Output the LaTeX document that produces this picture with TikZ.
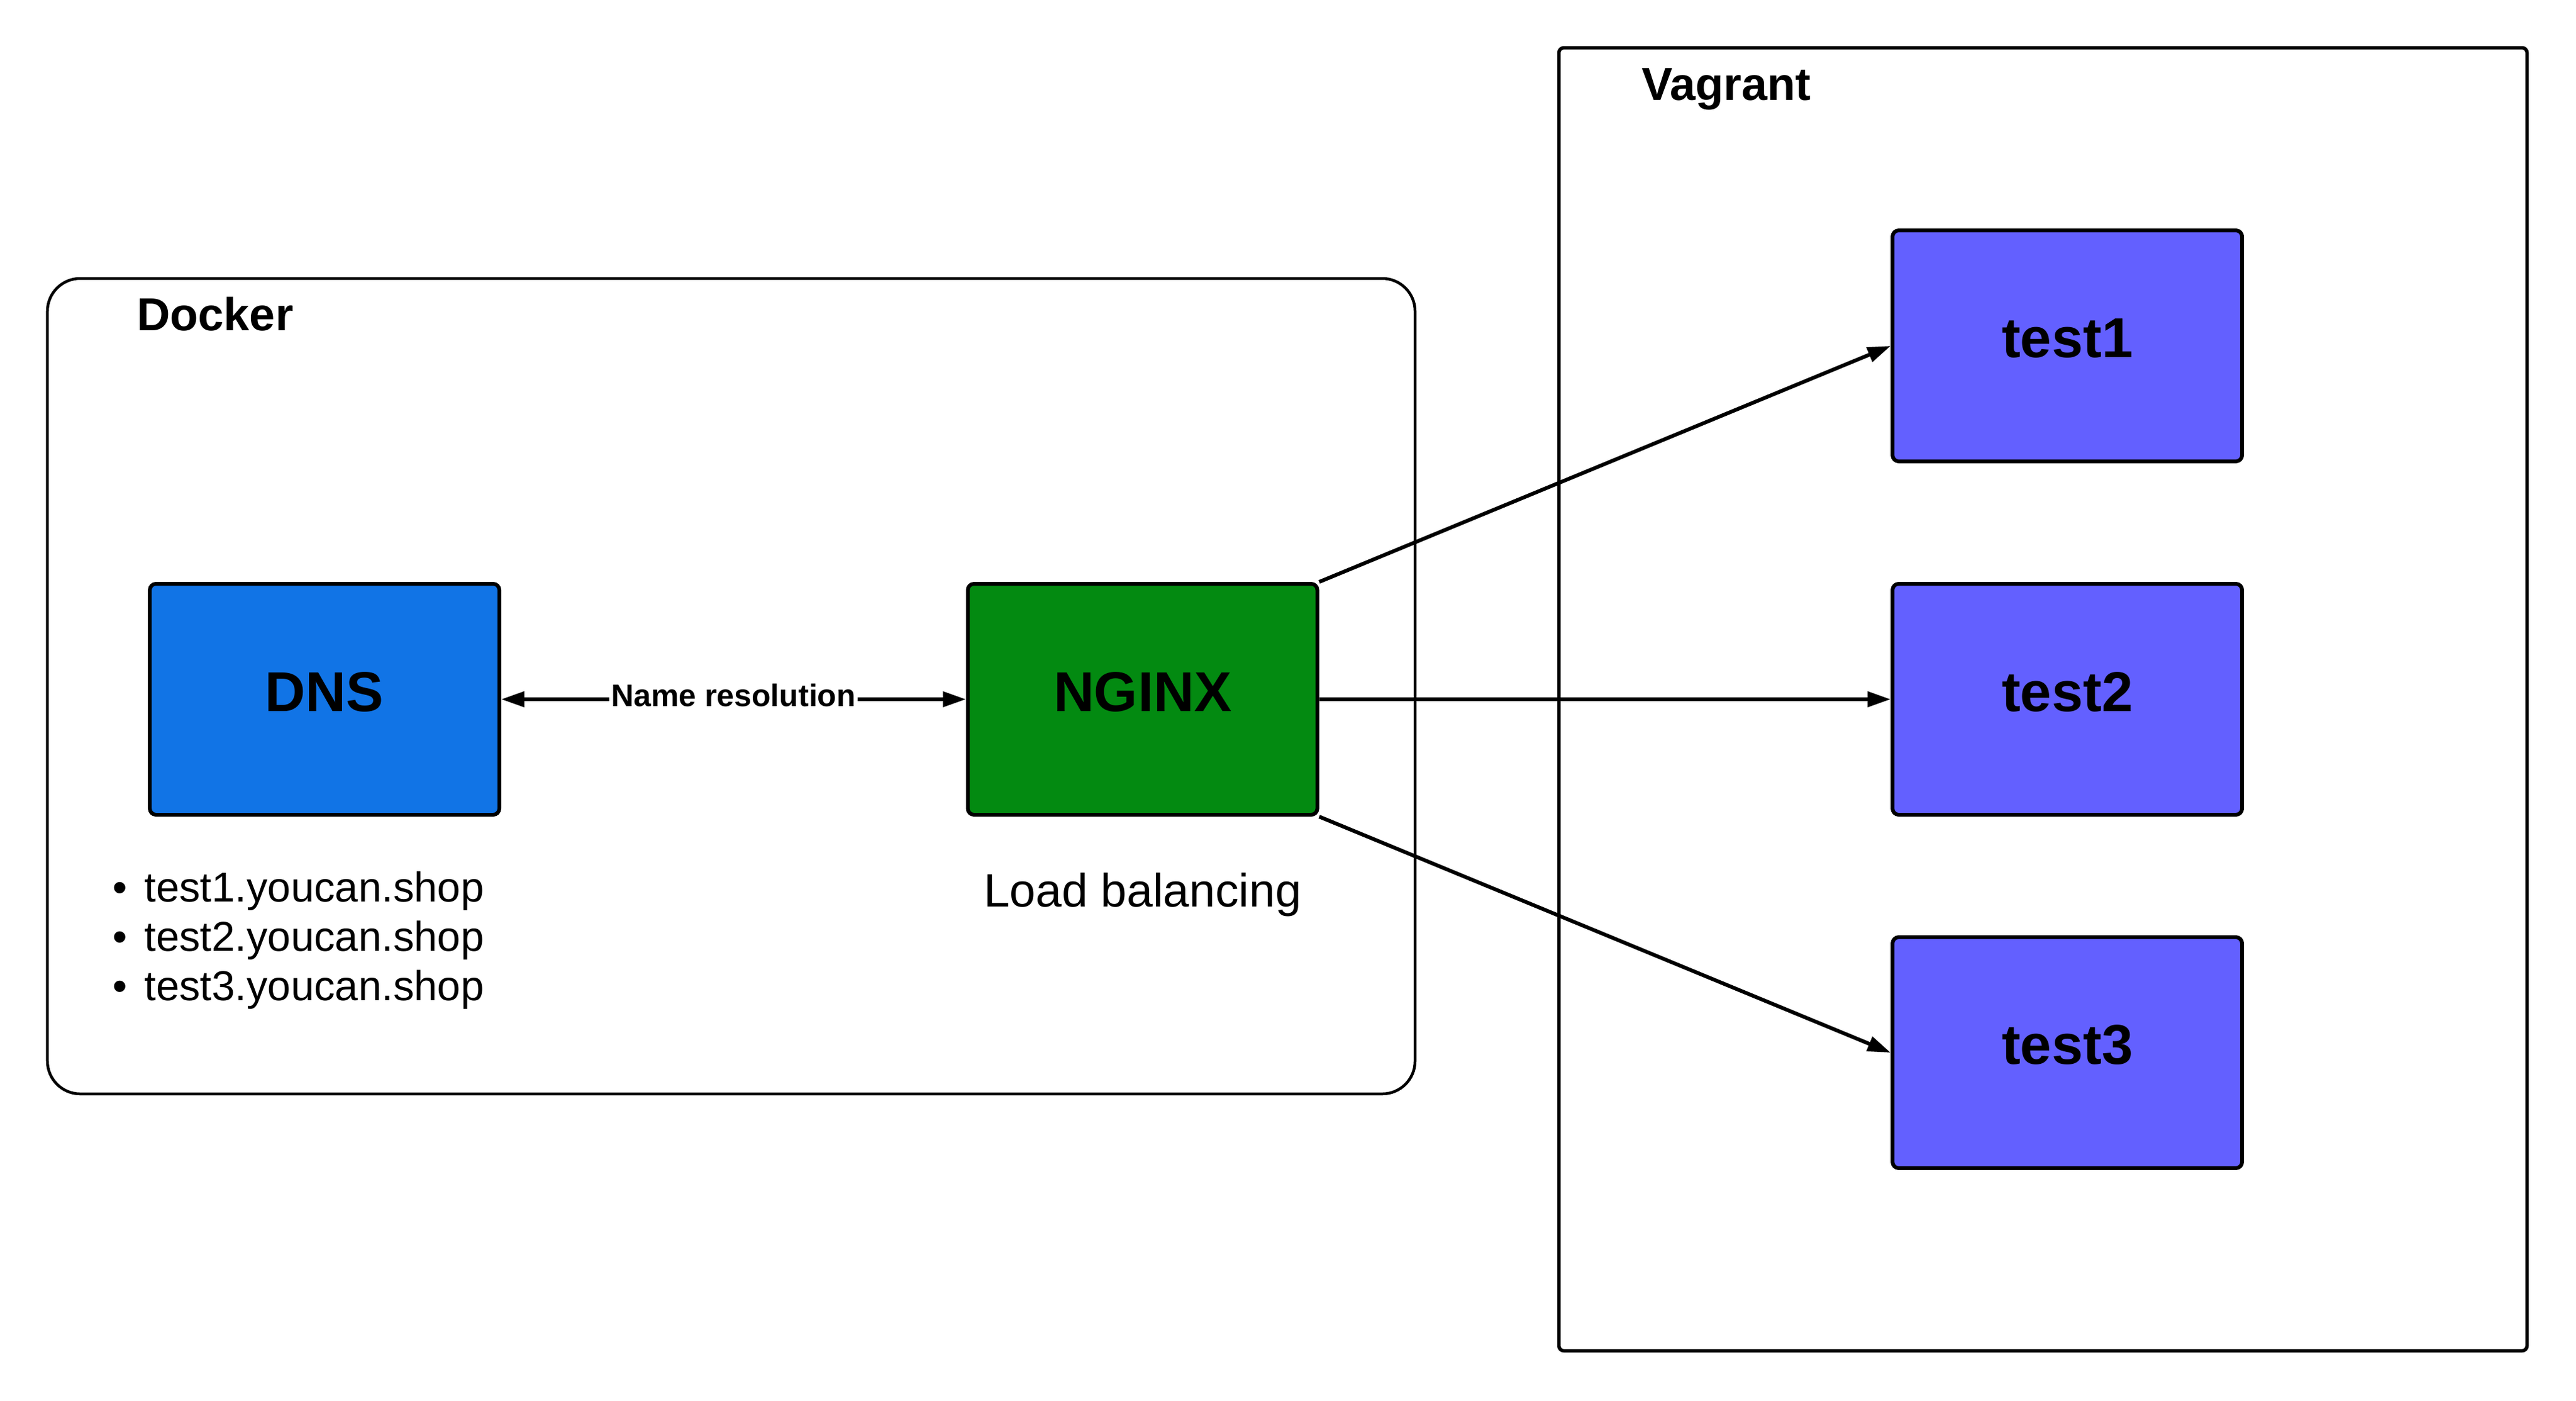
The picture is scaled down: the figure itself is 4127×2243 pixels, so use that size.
\documentclass[tikz,border=0pt]{standalone}
\usepackage{fontspec}
\setmainfont{Liberation Sans}
\usetikzlibrary{arrows.meta}
\definecolor{dnsblue}{RGB}{17,116,230}
\definecolor{nginxgreen}{RGB}{3,138,17}
\definecolor{testviolet}{RGB}{99,96,255}
\begin{document}
\begin{tikzpicture}[x=0.2pt,y=-0.2pt,
  container/.style={draw=black, line width=0.9pt, inner sep=0pt},
  box/.style={draw=black, line width=1.2pt, rounded corners=2pt, minimum width=112pt, minimum height=74pt, inner sep=0pt},
  boxtext/.style={font=\fontsize{18}{21}\selectfont\bfseries, yshift=2.4pt},
  title/.style={inner sep=0pt, anchor=base west, font=\fontsize{14.8}{17}\selectfont\bfseries},
  plain/.style={inner sep=0pt, font=\fontsize{13.4}{16}\selectfont},
  tip/.tip={Triangle[length=7.4pt,width=4.8pt]},
  conn/.style={line width=1.2pt, -tip},
]
\useasboundingbox (0,0) rectangle (4127,2243);
% containers
\node[container, rounded corners=10.5pt, minimum width=438.2pt, minimum height=261.2pt] (docker) at (1171.5,1099) {};
\node[container, line width=1.1pt, rounded corners=1.6pt, minimum width=310.2pt, minimum height=417.4pt] (vagrant) at (3273,1120) {};
\node[title] (dockerlabel) at (218,529) {Docker};
\node[title] (vagrantlabel) at (2629,160) {Vagrant};
% boxes
\node[box, fill=dnsblue] (dns) at (520,1120) {};
\node[box, fill=nginxgreen] (nginx) at (1830.5,1120) {};
\node[box, fill=testviolet] (test1) at (3312,554) {};
\node[box, fill=testviolet] (test2) at (3312,1120) {};
\node[box, fill=testviolet] (test3) at (3312,1686) {};
\node[boxtext] (dnstext) at (dns) {DNS};
\node[boxtext] (nginxtext) at (nginx) {NGINX};
\node[boxtext] (test1text) at (test1) {test1};
\node[boxtext] (test2text) at (test2) {test2};
\node[boxtext] (test3text) at (test3) {test3};
% texts
\node[plain, anchor=base west] (b1) at (179,1444) {•\hspace{0.42em}test1.youcan.shop};
\node[plain, anchor=base west] (b2) at (179,1523) {•\hspace{0.42em}test2.youcan.shop};
\node[plain, anchor=base west] (b3) at (179,1602) {•\hspace{0.42em}test3.youcan.shop};
\node[plain, anchor=base, font=\fontsize{15}{18}\selectfont] (lb) at (1830.5,1452) {Load balancing};
% connectors
\draw[line width=1.2pt, tip-tip] (dns) -- node[fill=white, inner sep=0.6pt, yshift=1.2pt, font=\fontsize{10}{12}\selectfont\bfseries] (nr) {Name resolution} (nginx);
\draw[conn] (nginx.north east) -- (test1.west);
\draw[conn] (nginx) -- (test2);
\draw[conn] (nginx.south east) -- (test3.west);
\end{tikzpicture}
\end{document}
